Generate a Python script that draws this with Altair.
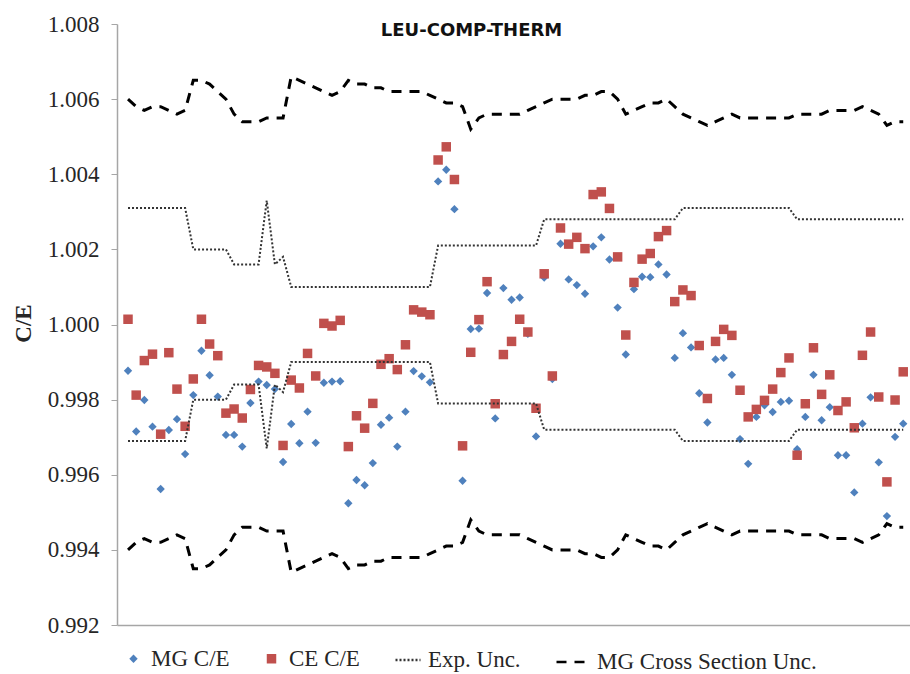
import altair as alt
import pandas as pd

# ---- data -----------------------------------------------------------------
case_no = list(range(1, 97))

# Multigroup calculated / experimental k-eff
mg_ce = [
    0.99877, 0.99715, 0.99799, 0.99728, 0.99562, 0.99719, 0.99748, 0.99655, 0.99812, 0.99930,
    0.99865, 0.99808, 0.99706, 0.99706, 0.99675, 0.99791, 0.99848, 0.99839, 0.99828, 0.99634,
    0.99735, 0.99684, 0.99768, 0.99685, 0.99845, 0.99848, 0.99849, 0.99524, 0.99586, 0.99572,
    0.99631, 0.99733, 0.99752, 0.99675, 0.99768, 0.99876, 0.99862, 0.99846, 1.00381, 1.00412,
    1.00307, 0.99584, 0.99988, 0.99989, 1.00084, 0.99750, 1.00097, 1.00066, 1.00072, 0.99975,
    0.99702, 1.00125, 0.99855, 1.00215, 1.00120, 1.00105, 1.00082, 1.00208, 1.00232, 1.00173,
    1.00045, 0.99920, 1.00094, 1.00127, 1.00126, 1.00160, 1.00133, 0.99911, 0.99977, 0.99939,
    0.99817, 0.99739, 0.99907, 0.99911, 0.99866, 0.99695, 0.99629, 0.99754, 0.99785, 0.99767,
    0.99794, 0.99797, 0.99668, 0.99754, 0.99866, 0.99745, 0.99780, 0.99652, 0.99652, 0.99553,
    0.99736, 0.99806, 0.99633, 0.99490, 0.99701, 0.99736,
]

# Continuous-energy calculated / experimental k-eff
ce_ce = [
    1.00014, 0.99812, 0.99904, 0.99921, 0.99708, 0.99925, 0.99828, 0.99729, 0.99855, 1.00014,
    0.99948, 0.99917, 0.99764, 0.99775, 0.99751, 0.99827, 0.99891, 0.99887, 0.99870, 0.99678,
    0.99852, 0.99831, 0.99923, 0.99863, 1.00003, 0.99996, 1.00011, 0.99675, 0.99757, 0.99724,
    0.99790, 0.99894, 0.99909, 0.99880, 0.99946, 1.00039, 1.00033, 1.00026, 1.00438, 1.00473,
    1.00386, 0.99677, 0.99926, 1.00013, 1.00114, 0.99789, 0.99920, 0.99955, 1.00014, 0.99980,
    0.99777, 1.00135, 0.99863, 1.00257, 1.00214, 1.00232, 1.00202, 1.00346, 1.00353, 1.00309,
    1.00180, 0.99972, 1.00112, 1.00174, 1.00189, 1.00234, 1.00250, 1.00061, 1.00092, 1.00077,
    0.99944, 0.99803, 0.99955, 0.99987, 0.99971, 0.99825, 0.99754, 0.99774, 0.99798, 0.99828,
    0.99872, 0.99911, 0.99652, 0.99789, 0.99938, 0.99814, 0.99866, 0.99771, 0.99794, 0.99725,
    0.99918, 0.99980, 0.99807, 0.99581, 0.99799, 0.99874,
]

# Experimental (benchmark) uncertainty, drawn as 1 +/- unc
exp_unc = [
    0.0031, 0.0031, 0.0031, 0.0031, 0.0031, 0.0031, 0.0031, 0.0031, 0.0020, 0.0020,
    0.0020, 0.0020, 0.0020, 0.0016, 0.0016, 0.0016, 0.0016, 0.0033, 0.0016, 0.0018,
    0.0010, 0.0010, 0.0010, 0.0010, 0.0010, 0.0010, 0.0010, 0.0010, 0.0010, 0.0010,
    0.0010, 0.0010, 0.0010, 0.0010, 0.0010, 0.0010, 0.0010, 0.0010, 0.0021, 0.0021,
    0.0021, 0.0021, 0.0021, 0.0021, 0.0021, 0.0021, 0.0021, 0.0021, 0.0021, 0.0021,
    0.0021, 0.0028, 0.0028, 0.0028, 0.0028, 0.0028, 0.0028, 0.0028, 0.0028, 0.0028,
    0.0028, 0.0028, 0.0028, 0.0028, 0.0028, 0.0028, 0.0028, 0.0028, 0.0031, 0.0031,
    0.0031, 0.0031, 0.0031, 0.0031, 0.0031, 0.0031, 0.0031, 0.0031, 0.0031, 0.0031,
    0.0031, 0.0031, 0.0028, 0.0028, 0.0028, 0.0028, 0.0028, 0.0028, 0.0028, 0.0028,
    0.0028, 0.0028, 0.0028, 0.0028, 0.0028, 0.0028,
]

# Uncertainty from the multigroup cross-section covariance, drawn as 1 +/- unc
mg_xs_unc = [
    0.0060, 0.0058, 0.0057, 0.0058, 0.0058, 0.0057, 0.0056, 0.0057, 0.0065, 0.0065,
    0.0064, 0.0062, 0.0060, 0.0056, 0.0054, 0.0054, 0.0054, 0.0055, 0.0055, 0.0055,
    0.0066, 0.0065, 0.0064, 0.0063, 0.0062, 0.0061, 0.0062, 0.0065, 0.0064, 0.0064,
    0.0063, 0.0063, 0.0062, 0.0062, 0.0062, 0.0062, 0.0062, 0.0061, 0.0060, 0.0059,
    0.0059, 0.0058, 0.0052, 0.0055, 0.0056, 0.0056, 0.0056, 0.0056, 0.0056, 0.0057,
    0.0058, 0.0059, 0.0060, 0.0060, 0.0060, 0.0060, 0.0061, 0.0061, 0.0062, 0.0062,
    0.0060, 0.0056, 0.0057, 0.0058, 0.0059, 0.0059, 0.0060, 0.0058, 0.0056, 0.0055,
    0.0054, 0.0053, 0.0054, 0.0055, 0.0056, 0.0055, 0.0055, 0.0055, 0.0055, 0.0055,
    0.0055, 0.0055, 0.0056, 0.0056, 0.0056, 0.0056, 0.0057, 0.0057, 0.0057, 0.0057,
    0.0058, 0.0057, 0.0056, 0.0053, 0.0054, 0.0054,
]

series_names = ["MG C/E", "CE C/E", "Exp. Unc.", "MG Cross Section Unc."]
y_ticks = [0.992, 0.994, 0.996, 0.998, 1.000, 1.002, 1.004, 1.006, 1.008]

# ---- tables ---------------------------------------------------------------
points = pd.DataFrame({
    "case": case_no + case_no,
    "ce": mg_ce + ce_ce,
    "series": ["MG C/E"] * len(mg_ce) + ["CE C/E"] * len(ce_ce),
})


def band(name, unc):
    rows = []
    for c, u in zip(case_no, unc):
        rows.append({"case": c, "ce": 1 + u, "series": name, "side": "upper"})
        rows.append({"case": c, "ce": 1 - u, "series": name, "side": "lower"})
    return pd.DataFrame(rows)


exp_band = band("Exp. Unc.", exp_unc)
xs_band = band("MG Cross Section Unc.", mg_xs_unc)

# ---- shared scales / legend ----------------------------------------------
SERIF = "Liberation Serif"
AXIS_GREY = "#A6A6A6"
TEXT = "#262626"

fill_scale = alt.Scale(domain=series_names,
                       range=["#4F81BD", "#C0504D", "transparent", "transparent"])
stroke_scale = alt.Scale(domain=series_names,
                         range=["transparent", "transparent", "#333333", "#000000"])
shape_scale = alt.Scale(domain=series_names,
                        range=["diamond", "square", "stroke", "stroke"])
size_scale = alt.Scale(type="ordinal", domain=series_names,
                       range=[70, 90, 625, 1089])
dash_scale = alt.Scale(domain=series_names,
                       range=[[1, 0], [1, 0], [2, 2], [10, 8]])

legend_def = alt.Legend(
    orient="none", legendX=5, legendY=620, direction="horizontal",
    title=None, labelFont=SERIF, labelFontSize=23, labelColor=TEXT,
    labelLimit=400, columnPadding=30, labelOffset=6, padding=0,
    symbolStrokeWidth=2.5, symbolOpacity=1,
)

x_enc = alt.X("case:Q",
              scale=alt.Scale(domain=[-0.35, 96.83], nice=False, zero=False),
              axis=alt.Axis(labels=False, ticks=False, title=None, grid=False,
                            domainColor=AXIS_GREY, domainWidth=1.5))
y_enc = alt.Y("ce:Q",
              scale=alt.Scale(domain=[0.992, 1.008], nice=False, zero=False),
              axis=alt.Axis(values=y_ticks, format=".3f", grid=False,
                            labelFont=SERIF, labelFontSize=23, labelColor=TEXT,
                            labelPadding=12, tickSize=6, tickColor=AXIS_GREY,
                            domainColor=AXIS_GREY, domainWidth=1.5,
                            title="C/E", titleFont=SERIF, titleFontSize=23,
                            titleFontWeight="bold", titleColor=TEXT,
                            titleAngle=270, titleX=-94, titleY=299,
                            titleAlign="center", titleBaseline="middle"))

# ---- layers ---------------------------------------------------------------
pts = alt.Chart(points).mark_point(filled=True, opacity=1).encode(
    x=x_enc, y=y_enc,
    fill=alt.Fill("series:N", scale=fill_scale, legend=legend_def),
    stroke=alt.Stroke("series:N", scale=stroke_scale, legend=legend_def),
    shape=alt.Shape("series:N", scale=shape_scale, legend=legend_def),
    size=alt.Size("series:N", scale=size_scale, legend=legend_def),
    strokeDash=alt.StrokeDash("series:N", scale=dash_scale, legend=legend_def),
)


def band_layer(df, width):
    return alt.Chart(df).mark_line(strokeWidth=width).encode(
        x=x_enc, y=y_enc,
        stroke=alt.Stroke("series:N", scale=stroke_scale, legend=legend_def),
        strokeDash=alt.StrokeDash("series:N", scale=dash_scale, legend=legend_def),
        detail="side:N",
    )


chart = alt.layer(
    pts,
    band_layer(exp_band, 2),
    band_layer(xs_band, 3),
).properties(
    width=793,
    height=601,
    padding={"left": 117, "top": 24, "right": 0, "bottom": 49},
    autosize=alt.AutoSizeParams(type="none"),
    background="white",
    title=alt.TitleParams("LEU-COMP-THERM", font="DejaVu Sans", fontSize=18,
                          fontWeight="bold", color="#111111", anchor="middle",
                          frame="group", dx=-42, dy=27, offset=-14,
                          baseline="alphabetic"),
).configure_view(stroke=None)

chart.save("out.html", embed_options={"renderer": "svg", "actions": False})
